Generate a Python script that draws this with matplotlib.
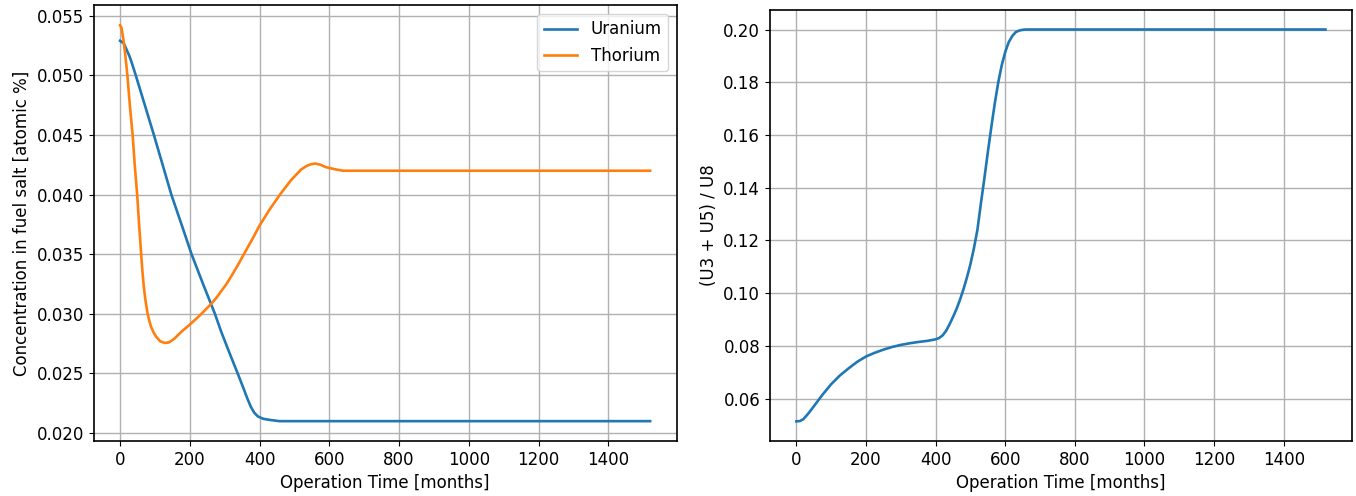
import matplotlib
matplotlib.use("Agg")
import matplotlib.pyplot as plt

# Left panel: concentration in fuel salt [atomic %]
t_uranium = [0, 5, 10, 15, 21, 27, 33, 45, 70, 97, 122, 147, 175, 205, 238, 272, 290, 310,
             325, 340, 352, 365, 375, 385, 395, 410, 430, 457, 500, 700, 1000, 1300, 1520]
uranium = [0.0529, 0.0528, 0.0527, 0.0524, 0.0520, 0.0516, 0.0511, 0.0500, 0.0476, 0.0450,
           0.0425, 0.0400, 0.0376, 0.0350, 0.0325, 0.0300, 0.0285, 0.0270, 0.0259, 0.0248,
           0.0239, 0.0229, 0.0222, 0.0217, 0.0214, 0.0212, 0.0211, 0.0210, 0.0210, 0.0210,
           0.0210, 0.0210, 0.0210]

t_thorium = [0, 4, 10, 15, 21, 28, 36, 42, 49, 55, 60, 64, 68, 72, 79, 84, 89, 95, 103, 115,
             128, 140, 155, 176, 200, 230, 260, 275, 290, 305, 320, 340, 357, 380, 400, 430,
             461, 490, 519, 535, 548, 560, 575, 590, 605, 620, 640, 660, 700, 1000, 1300, 1520]
thorium = [0.0542, 0.0540, 0.0529, 0.0517, 0.0500, 0.0475, 0.0450, 0.0425, 0.0400, 0.0373,
           0.0352, 0.0336, 0.0323, 0.0313, 0.0300, 0.0294, 0.0289, 0.0285, 0.0281, 0.0277,
           0.02756, 0.0276, 0.0279, 0.0285, 0.0291, 0.0299, 0.0308, 0.0313, 0.0319, 0.0325,
           0.0332, 0.0342, 0.0351, 0.0363, 0.0374, 0.0388, 0.0401, 0.0412, 0.0421, 0.0424,
           0.04255, 0.0426, 0.0425, 0.0423, 0.0422, 0.0421, 0.0420, 0.0420, 0.0420, 0.0420,
           0.0420, 0.0420]

# Right panel: (U3 + U5) / U8
t_ratio = [0, 10, 20, 35, 50, 75, 100, 125, 150, 175, 200, 225, 250, 275, 300, 325, 350,
           375, 400, 410, 420, 430, 440, 450, 460, 470, 480, 490, 500, 510, 520, 530, 540,
           550, 560, 570, 580, 590, 600, 610, 620, 630, 640, 650, 660, 700, 1000, 1300, 1520]
ratio = [0.0514, 0.0515, 0.0522, 0.0545, 0.0571, 0.0615, 0.0655, 0.0688, 0.0715, 0.0740,
         0.0760, 0.0774, 0.0786, 0.0796, 0.0804, 0.0810, 0.0815, 0.0819, 0.0825, 0.0830,
         0.0840, 0.0857, 0.0882, 0.0910, 0.0940, 0.0975, 0.1015, 0.1060, 0.1110, 0.1170,
         0.1240, 0.1340, 0.1435, 0.1535, 0.1630, 0.1720, 0.1800, 0.1865, 0.1915, 0.1952,
         0.1975, 0.1990, 0.1996, 0.1999, 0.2000, 0.2000, 0.2000, 0.2000, 0.2000]

x_ticks = [0, 200, 400, 600, 800, 1000, 1200, 1400]
left_yticks = [0.020, 0.025, 0.030, 0.035, 0.040, 0.045, 0.050, 0.055]
right_yticks = [0.06, 0.08, 0.10, 0.12, 0.14, 0.16, 0.18, 0.20]

FS = 12
fig = plt.figure(figsize=(13.56, 4.96), dpi=100)
ax1 = fig.add_axes([0.0690, 0.111, 0.4300, 0.878])
ax2 = fig.add_axes([0.5678, 0.111, 0.4292, 0.869])

ax1.plot(t_uranium, uranium, color="#1f77b4", lw=1.9, label="Uranium")
ax1.plot(t_thorium, thorium, color="#ff7f0e", lw=1.9, label="Thorium")
ax1.set_xticks(x_ticks)
ax1.set_yticks(left_yticks)
ax1.set_yticklabels([f"{v:.3f}" for v in left_yticks])
ax1.set_xlabel("Operation Time [months]", fontsize=FS)
ax1.set_ylabel("Concentration in fuel salt [atomic %]", fontsize=FS)
ax1.grid(True, color="#b0b0b0", lw=1.0)
ax1.legend(loc="upper right", fontsize=FS)

ax2.plot(t_ratio, ratio, color="#1f77b4", lw=1.9)
ax2.set_xticks(x_ticks)
ax2.set_yticks(right_yticks)
ax2.set_yticklabels([f"{v:.2f}" for v in right_yticks])
ax2.set_xlabel("Operation Time [months]", fontsize=FS)
ax2.set_ylabel("(U3 + U5) / U8", fontsize=FS)
ax2.grid(True, color="#b0b0b0", lw=1.0)

for ax in (ax1, ax2):
    ax.tick_params(labelsize=FS)
    for s in ax.spines.values():
        s.set_linewidth(1.2)

fig.savefig("out.png", dpi=100)
